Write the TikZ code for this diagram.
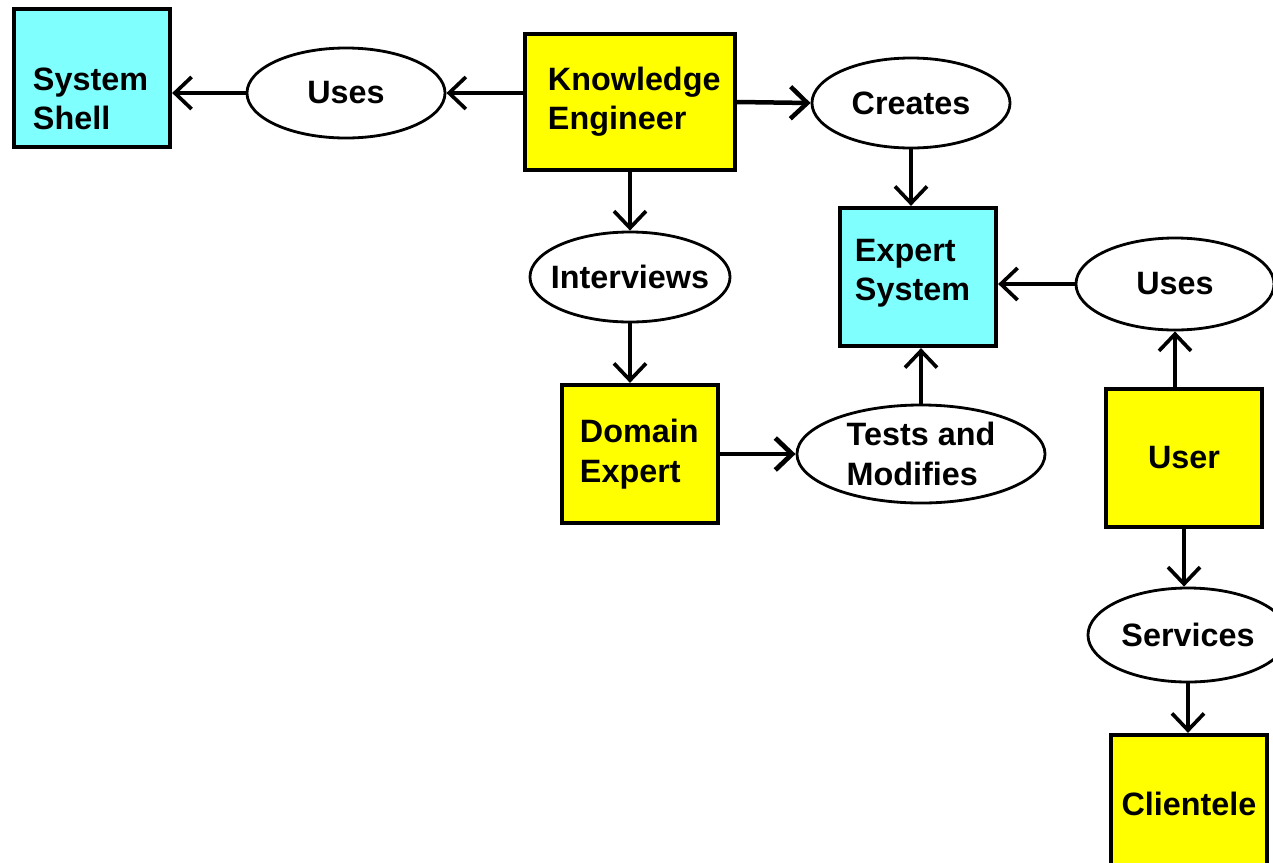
\documentclass[tikz,border=0pt]{standalone}
\usepackage{fontspec}
\setmainfont{Liberation Sans}
\usepackage{xcolor}
\usepackage{tikz}
\usetikzlibrary{arrows.meta,shapes.geometric}

\definecolor{shellcyan}{HTML}{80FFFF}
\definecolor{roleyellow}{HTML}{FFFF00}

\begin{document}
\begin{tikzpicture}[
  x=0.025cm, y=-0.025cm,
  >={Straight Barb[length=0.42cm, width=0.8cm]},
  box/.style={draw, line width=3pt, minimum width=3.9cm,
              minimum height=3.45cm, inner sep=0pt, align=left,
              font=\fontsize{23}{28}\selectfont\bfseries},
  act/.style={draw, ellipse, line width=2pt, minimum width=4.95cm,
              minimum height=2.25cm, inner sep=0pt, align=left,
              font=\fontsize{23}{28}\selectfont\bfseries},
  arrow/.style={->, line width=2.6pt},
]
\clip (0,0) rectangle (1273,862);

% === Actors and systems ===
\node[box, fill=shellcyan, text width=2.95cm, text height=46pt] (shell) at (92,78)
  {System\\Shell};
\node[box, fill=roleyellow, minimum width=5.25cm, minimum height=3.4cm,
      text width=4.1cm] (ke) at (630,102)
  {Knowledge\\Engineer};
\node[box, fill=shellcyan, text width=3.15cm, text depth=38pt] (es) at (918,277)
  {Expert\\System};
\node[box, fill=roleyellow, text width=3.0cm] (de) at (640,454)
  {Domain\\Expert};
\node[box, fill=roleyellow, align=center] (user) at (1184,458) {User};
\node[box, fill=roleyellow, align=center] (clientele) at (1189,804) {Clientele};

% === Activities ===
\node[act] (uses1) at (346,93) {Uses};
\node[act] (creates) at (911,103) {Creates};
\node[act, minimum width=5cm, inner xsep=-0.22cm] (interviews) at (630,277)
  {Interviews};
\node[act, minimum width=6.2cm, minimum height=2.45cm] (tests) at (921,454)
  {Tests and\\Modifies};
\node[act, minimum height=2.3cm] (uses2) at (1175,284) {Uses};
\node[act, minimum width=5cm, minimum height=2.35cm] (services) at (1188,635)
  {Services};

% === Connectors ===
\draw[arrow] (uses1.west) -- (uses1.west -| shell.east);
\draw[arrow] (ke.west |- uses1.east) -- (uses1.east);
\draw[arrow, line width=3.2pt] (ke.east) -- (creates.west);
\draw[arrow] (creates.south) -- (creates.south |- es.north);
\draw[arrow] (ke.south) -- (interviews.north);
\draw[arrow] (interviews.south) -- (interviews.south |- de.north);
\draw[arrow, line width=3.4pt] (de.east) -- (tests.west);
\draw[arrow] (tests.north) -- (tests.north |- es.south);
\draw[arrow] (uses2.west) -- (uses2.west -| es.east);
\draw[arrow] (uses2.south |- user.north) -- (uses2.south);
\draw[arrow] (user.south) -- (user.south |- services.north);
\draw[arrow] (services.south) -- (services.south |- clientele.north);

\end{tikzpicture}
\end{document}
